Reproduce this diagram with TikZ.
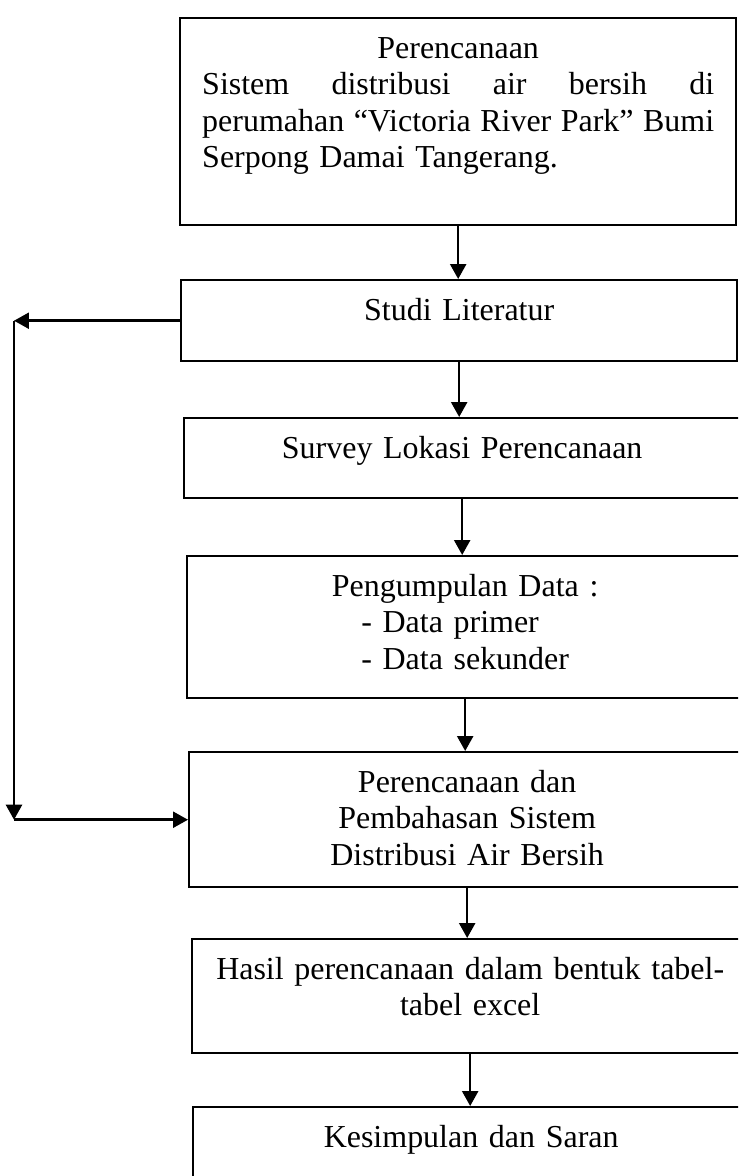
\documentclass[tikz,border=0pt]{standalone}
\usepackage{fontspec}
\setmainfont{Liberation Serif}
\usetikzlibrary{
  arrows.meta
}

\begin{document}
\begin{tikzpicture}[
  x=0.02cm,
  y=-0.02cm,
  stage/.style={
    draw,
    rectangle,
    line width=1.4pt,
    anchor=north west,
    inner xsep=0.44cm,
    inner ysep=0pt,
    text width=10.24cm,
    align=center,
    text height=0.8cm,
    font=\fontsize{18.2pt}{20.8pt}\selectfont
  },
  flow/.style={
    ->,
    line width=1.4pt
  },
  >={Triangle[length=0.3cm,width=0.32cm]}
]

\useasboundingbox (0,0) rectangle (738,1176);
\clip (0,0) rectangle (738,1176);

% Boxes
\node[stage, text depth=3.34cm] (plan) at (179,17) {Perencanaan\\
  Sistem\hspace{\fill}distribusi\hspace{\fill}air\hspace{\fill}bersih\hspace{\fill}di\\
  perumahan\hspace{\fill}“Victoria\hspace{\fill}River\hspace{\fill}Park”\hspace{\fill}Bumi\\
  \makebox[10.24cm][l]{Serpong Damai Tangerang.}};
\node[stage, text depth=0.82cm] (studi) at (180,279) {Studi Literatur};
\node[stage, text depth=0.80cm] (survey) at (183,417) {Survey Lokasi Perencanaan};
\node[stage, text depth=2.04cm] (data) at (186,555) {Pengumpulan Data :\\
  \begin{tabular}[t]{@{}l@{}}- Data primer\\- Data sekunder\end{tabular}};
\node[stage, text depth=1.90cm] (bahas) at (188,751) {Perencanaan dan\\
  Pembahasan Sistem\\
  Distribusi Air Bersih};
\node[stage, text depth=1.48cm] (hasil) at (191,938) {Hasil perencanaan dalam bentuk tabel-\\
  tabel excel};
\node[stage, text depth=1.40cm] (simpul) at (192,1106) {Kesimpulan dan Saran};

% Arrows
\draw[flow] (plan.south) -- (plan.south |- studi.north);
\draw[flow] (studi.south) -- (studi.south |- survey.north);
\draw[flow] (survey.south) -- (survey.south |- data.north);
\draw[flow] (data.south) -- (data.south |- bahas.north);
\draw[flow] (bahas.south) -- (bahas.south |- hasil.north);
\draw[flow] (hasil.south) -- (hasil.south |- simpul.north);

% Feedback
\coordinate (fbtop) at (studi.west -| 14,0);
\coordinate (fbbot) at (bahas.west -| fbtop);
\draw[flow] (studi.west) -- (fbtop);
\draw[flow] (fbtop) -- (fbbot);
\draw[flow] (fbbot) -- (bahas.west);

\end{tikzpicture}
\end{document}
